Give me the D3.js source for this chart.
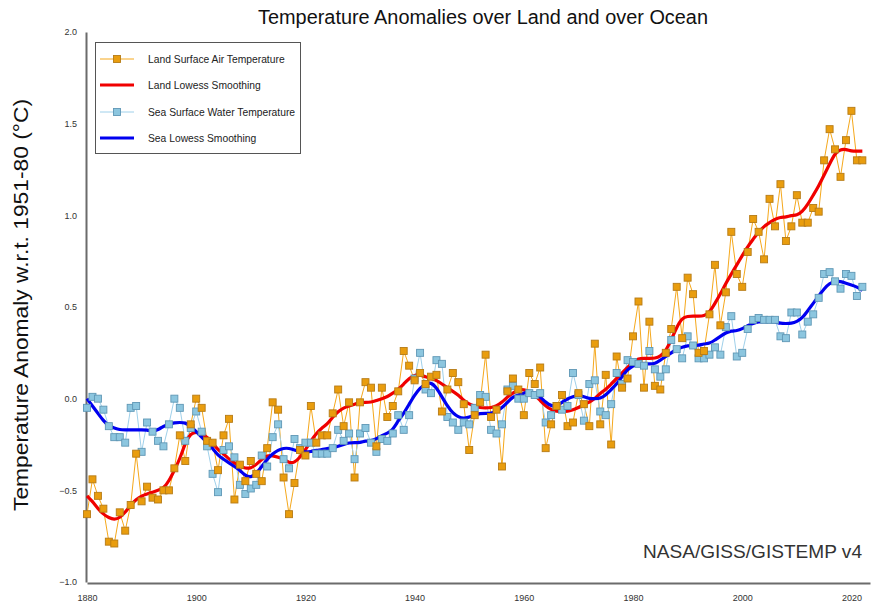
<!DOCTYPE html>
<html>
<head>
<meta charset="utf-8">
<script src="https://cdn.jsdelivr.net/npm/d3@7"></script>
<style>
  html, body { margin: 0; padding: 0; background: #fff; }
  svg { display: block; font-family: "Liberation Sans", Arial, sans-serif; }
</style>
</head>
<body>
<svg id="chart" width="876" height="604"></svg>
<script>
// Annual anomalies (°C, relative to 1951-80)
const years = d3.range(1880, 2023);

const landAnnual = [
  -0.63, -0.44, -0.53, -0.60, -0.78, -0.79, -0.62, -0.72, -0.58, -0.30,
  -0.56, -0.48, -0.54, -0.55, -0.50, -0.50, -0.38, -0.20, -0.34, -0.14,
   0.00, -0.05, -0.23, -0.24, -0.39, -0.20, -0.11, -0.55, -0.36, -0.45,
  -0.34, -0.41, -0.45, -0.27, -0.02, -0.06, -0.43, -0.63, -0.46, -0.28,
  -0.31, -0.04, -0.24, -0.20, -0.20, -0.08,  0.05, -0.15, -0.02, -0.43,
  -0.02,  0.09,  0.06, -0.26,  0.06, -0.10, -0.04,  0.04,  0.26,  0.18,
   0.10,  0.14,  0.08,  0.12,  0.13, -0.07,  0.05,  0.14,  0.09, -0.03,
  -0.28, -0.09, -0.02,  0.24, -0.10, -0.06, -0.37,  0.04,  0.11,  0.05,
  -0.09,  0.14,  0.08,  0.17, -0.27, -0.14, -0.04,  0.02, -0.15, -0.13,
   0.03, -0.03, -0.15,  0.30, -0.14,  0.13, -0.25,  0.23,  0.06,  0.11,
   0.34,  0.53,  0.06,  0.42,  0.07,  0.05,  0.25,  0.38,  0.61,  0.33,
   0.66,  0.57,  0.25,  0.26,  0.46,  0.73,  0.40,  0.58,  0.91,  0.68,
   0.61,  0.80,  0.98,  0.91,  0.76,  1.09,  0.94,  1.17,  0.86,  0.94,
   1.11,  0.96,  0.96,  1.04,  1.02,  1.30,  1.47,  1.36,  1.21,  1.41,
   1.57,  1.30,  1.30
];

const landLowess = [
  -0.53, -0.56, -0.60, -0.63, -0.65, -0.66, -0.65, -0.62, -0.58, -0.55,
  -0.53, -0.52, -0.51, -0.50, -0.49, -0.45, -0.39, -0.33, -0.24, -0.19,
  -0.18, -0.19, -0.21, -0.24, -0.28, -0.30, -0.33, -0.35, -0.37, -0.38,
  -0.38, -0.36, -0.33, -0.31, -0.31, -0.32, -0.33, -0.35, -0.35, -0.32,
  -0.28, -0.23, -0.19, -0.16, -0.14, -0.10, -0.07, -0.05, -0.04, -0.03,
  -0.02, -0.02, -0.02, -0.01,  0.00,  0.01,  0.03,  0.05,  0.08,  0.11,
   0.13,  0.13,  0.12,  0.11,  0.10,  0.08,  0.06,  0.04,  0.02, -0.01,
  -0.03, -0.04, -0.05, -0.05, -0.05, -0.04, -0.02,  0.01,  0.03,  0.05,
   0.05,  0.04,  0.02, -0.01, -0.04, -0.06, -0.07, -0.07, -0.07, -0.06,
  -0.05, -0.03, -0.02,  0.00,  0.03,  0.05,  0.08,  0.11,  0.14,  0.17,
   0.20,  0.22,  0.22,  0.22,  0.22,  0.23,  0.26,  0.32,  0.39,  0.44,
   0.45,  0.45,  0.45,  0.45,  0.47,  0.52,  0.57,  0.63,  0.68,  0.73,
   0.78,  0.83,  0.87,  0.91,  0.94,  0.96,  0.98,  0.99,  0.99,  1.00,
   1.00,  1.02,  1.06,  1.11,  1.16,  1.22,  1.28,  1.34,  1.36,  1.36,
   1.35,  1.35,  1.35
];

const seaAnnual = [
  -0.05,  0.01,  0.00, -0.06, -0.15, -0.21, -0.21, -0.24, -0.05, -0.04,
  -0.29, -0.13, -0.18, -0.23, -0.26, -0.14,  0.00, -0.05, -0.23, -0.16,
  -0.07, -0.18, -0.26, -0.41, -0.51, -0.28, -0.26, -0.32, -0.47, -0.52,
  -0.49, -0.47, -0.31, -0.37, -0.21, -0.14, -0.33, -0.38, -0.22, -0.27,
  -0.24, -0.24, -0.30, -0.30, -0.30, -0.27, -0.17, -0.23, -0.19, -0.33,
  -0.19, -0.16, -0.24, -0.29, -0.22, -0.23, -0.19, -0.09, -0.17, -0.09,
   0.11,  0.25,  0.05,  0.03,  0.21,  0.19, -0.10, -0.13, -0.17, -0.13,
  -0.14, -0.05,  0.02,  0.01, -0.17, -0.19, -0.14,  0.05,  0.07,  0.00,
   0.00,  0.03,  0.02,  0.03, -0.13, -0.09, -0.04, -0.06, -0.04,  0.14,
   0.02, -0.12,  0.08,  0.10, -0.07, -0.09, -0.03,  0.14,  0.08,  0.21,
   0.20,  0.19,  0.18,  0.26,  0.16,  0.12,  0.16,  0.32,  0.27,  0.22,
   0.34,  0.29,  0.22,  0.22,  0.24,  0.28,  0.24,  0.39,  0.45,  0.23,
   0.25,  0.38,  0.43,  0.44,  0.43,  0.43,  0.43,  0.34,  0.33,  0.47,
   0.47,  0.35,  0.42,  0.46,  0.55,  0.68,  0.69,  0.64,  0.60,  0.68,
   0.67,  0.56,  0.61
];

const seaLowess = [
   0.00, -0.04, -0.08, -0.12, -0.15, -0.16, -0.17, -0.17, -0.17, -0.17,
  -0.17, -0.17, -0.18, -0.17, -0.15, -0.14, -0.13, -0.13, -0.13, -0.15,
  -0.18, -0.21, -0.24, -0.27, -0.31, -0.33, -0.35, -0.37, -0.39, -0.42,
  -0.43, -0.41, -0.37, -0.33, -0.30, -0.28, -0.27, -0.27, -0.28, -0.29,
  -0.29, -0.29, -0.28, -0.28, -0.27, -0.27, -0.26, -0.25, -0.24, -0.24,
  -0.24, -0.23, -0.23, -0.22, -0.20, -0.19, -0.17, -0.12, -0.08, -0.03,
   0.02,  0.06,  0.08,  0.09,  0.06,  0.01, -0.04, -0.08, -0.10, -0.11,
  -0.10, -0.09, -0.08, -0.08, -0.08, -0.07, -0.05, -0.02,  0.01,  0.02,
   0.03,  0.04,  0.03,  0.01, -0.02, -0.04, -0.04, -0.02,  0.00,  0.01,
   0.02,  0.01,  0.00,  0.00,  0.00,  0.02,  0.05,  0.08,  0.12,  0.16,
   0.18,  0.19,  0.19,  0.19,  0.19,  0.21,  0.23,  0.25,  0.27,  0.28,
   0.29,  0.29,  0.29,  0.30,  0.30,  0.32,  0.34,  0.36,  0.37,  0.37,
   0.38,  0.40,  0.41,  0.42,  0.42,  0.42,  0.42,  0.41,  0.41,  0.41,
   0.42,  0.44,  0.48,  0.52,  0.56,  0.60,  0.63,  0.64,  0.64,  0.63,
   0.62,  0.61,  0.59
];

const yTicks = [-1.0, -0.5, 0.0, 0.5, 1.0, 1.5, 2.0];
const xTicks = [1880, 1900, 1920, 1940, 1960, 1980, 2000, 2020];

const legendLabels = [
  "Land Surface Air Temperature",
  "Land Lowess Smoothing",
  "Sea Surface Water Temperature",
  "Sea Lowess Smoothing"
];

// ---- drawing ----
const svg = d3.select("#chart");

const x = d3.scaleLinear().domain([1880, 2023.4]).range([87, 870]);
const y = d3.scaleLinear().domain([-1, 2]).range([582, 32]);

const landCol = { line: "#f5a81c", fill: "#e99d0e", stroke: "#b67b16" };
const seaCol = { line: "#9fd0ea", fill: "#8cc6df", stroke: "#5f97b5" };

const zip = arr => years.map((yr, i) => ({ yr, v: arr[i] }));
const land = zip(landAnnual), landS = zip(landLowess);
const sea = zip(seaAnnual), seaS = zip(seaLowess);

const straight = d3.line().x(d => x(d.yr)).y(d => y(d.v));
const smooth = d3.line().x(d => x(d.yr)).y(d => y(d.v)).curve(d3.curveBasis);

// title
svg.append("text")
  .attr("x", 483).attr("y", 24)
  .attr("text-anchor", "middle")
  .attr("font-size", 19.5)
  .attr("textLength", 450).attr("lengthAdjust", "spacingAndGlyphs")
  .attr("fill", "#111")
  .text("Temperature Anomalies over Land and over Ocean");

// y label
svg.append("text")
  .attr("transform", "translate(28,305) rotate(-90)")
  .attr("text-anchor", "middle")
  .attr("font-size", 20)
  .attr("textLength", 412).attr("lengthAdjust", "spacingAndGlyphs")
  .attr("fill", "#111")
  .text("Temperature Anomaly w.r.t. 1951-80 (°C)");

// axes
const yAxis = svg.append("g")
  .attr("transform", "translate(86,0)")
  .call(d3.axisLeft(y).tickValues(yTicks).tickFormat(d3.format(".1f")).tickSize(0).tickPadding(9));
const xAxis = svg.append("g")
  .attr("transform", "translate(0,583)")
  .call(d3.axisBottom(x).tickValues(xTicks).tickFormat(d3.format("d")).tickSize(0).tickPadding(12));

[yAxis, xAxis].forEach(g => {
  g.select(".domain").attr("stroke", "#6b6b6b").attr("stroke-width", 2);
  g.selectAll("text").attr("font-size", 9).attr("fill", "#333")
    .attr("font-family", "'Liberation Sans', Arial, sans-serif");
});

// thin annual lines
svg.append("path").datum(land).attr("d", straight)
  .attr("fill", "none").attr("stroke", landCol.line).attr("stroke-width", 1);
svg.append("path").datum(sea).attr("d", straight)
  .attr("fill", "none").attr("stroke", seaCol.line).attr("stroke-width", 1);

// lowess curves
svg.append("path").datum(landS).attr("d", smooth)
  .attr("fill", "none").attr("stroke", "#f00000").attr("stroke-width", 3.2)
  .attr("stroke-linejoin", "round");
svg.append("path").datum(seaS).attr("d", smooth)
  .attr("fill", "none").attr("stroke", "#0000f0").attr("stroke-width", 3.2)
  .attr("stroke-linejoin", "round");

// markers
const ms = 7;
svg.append("g").selectAll("rect").data(sea).join("rect")
  .attr("x", d => x(d.yr) - ms / 2).attr("y", d => y(d.v) - ms / 2)
  .attr("width", ms).attr("height", ms)
  .attr("fill", seaCol.fill).attr("stroke", seaCol.stroke).attr("stroke-width", 0.9);
svg.append("g").selectAll("rect").data(land).join("rect")
  .attr("x", d => x(d.yr) - ms / 2).attr("y", d => y(d.v) - ms / 2)
  .attr("width", ms).attr("height", ms)
  .attr("fill", landCol.fill).attr("stroke", landCol.stroke).attr("stroke-width", 0.9);

// legend
const lg = svg.append("g");
lg.append("rect").attr("x", 95.5).attr("y", 42.5).attr("width", 205).attr("height", 111)
  .attr("fill", "#fff").attr("stroke", "#555").attr("stroke-width", 1);
const rowsY = [59, 85, 112, 138];
const swatches = [
  { color: landCol.line, w: 1, marker: landCol },
  { color: "#f00000", w: 3.2 },
  { color: seaCol.line, w: 1, marker: seaCol },
  { color: "#0000f0", w: 3.2 }
];
swatches.forEach((s, i) => {
  lg.append("line").attr("x1", 100).attr("x2", 134)
    .attr("y1", rowsY[i]).attr("y2", rowsY[i])
    .attr("stroke", s.color).attr("stroke-width", s.w);
  if (s.marker) {
    lg.append("rect").attr("x", 117 - ms / 2).attr("y", rowsY[i] - ms / 2)
      .attr("width", ms).attr("height", ms)
      .attr("fill", s.marker.fill).attr("stroke", s.marker.stroke).attr("stroke-width", 0.9);
  }
  lg.append("text").attr("x", 148).attr("y", rowsY[i] + 3.5)
    .attr("font-size", 10.3).attr("fill", "#222")
    .text(legendLabels[i]);
});

// source
svg.append("text")
  .attr("x", 862).attr("y", 558)
  .attr("text-anchor", "end")
  .attr("font-size", 19)
  .attr("textLength", 219).attr("lengthAdjust", "spacingAndGlyphs")
  .attr("fill", "#333")
  .text("NASA/GISS/GISTEMP v4");
</script>
</body>
</html>
